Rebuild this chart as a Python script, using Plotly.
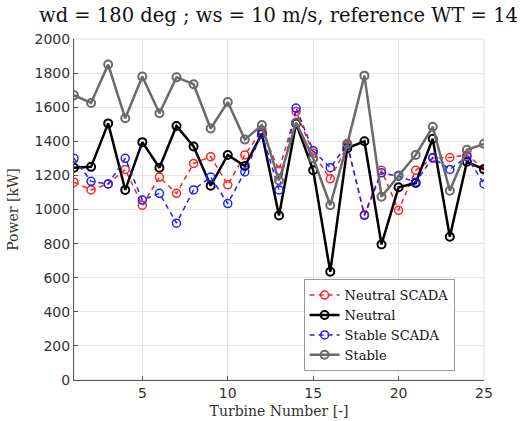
import plotly.graph_objects as go

turbines = list(range(1, 26))
neutral_scada = [1160, 1115, 1150, 1235, 1025, 1190, 1095, 1270, 1310, 1145, 1320, 1465, 1230, 1575, 1330, 1180, 1375, 970, 1230, 995, 1230, 1300, 1305, 1320, 1240]
neutral = [1245, 1250, 1505, 1115, 1395, 1245, 1490, 1370, 1140, 1320, 1255, 1445, 965, 1505, 1230, 635, 1360, 1400, 795, 1130, 1155, 1415, 840, 1280, 1235]
stable_scada = [1300, 1165, 1150, 1300, 1055, 1095, 920, 1115, 1190, 1035, 1220, 1445, 1115, 1595, 1345, 1245, 1385, 965, 1215, 1195, 1160, 1305, 1235, 1310, 1150]
stable = [1670, 1625, 1850, 1535, 1780, 1565, 1775, 1735, 1475, 1630, 1410, 1495, 1170, 1510, 1300, 1025, 1385, 1785, 1075, 1200, 1320, 1485, 1110, 1350, 1385]

title_text = "wd = 180 deg ; ws = 10 m/s, reference WT = 14"
x_title = "Turbine Number [-]"
y_title = "Power [kW]"

serif = "DejaVu Serif"
sans = "DejaVu Sans"

fig = go.Figure()
fig.add_trace(go.Scatter(
    x=turbines, y=neutral_scada, name="Neutral SCADA", mode="lines+markers",
    line=dict(color="#ff2020", width=1.5, dash="5px,4px"),
    marker=dict(symbol="circle-open", size=8, color="#ff2020", line=dict(width=1.5))))
fig.add_trace(go.Scatter(
    x=turbines, y=neutral, name="Neutral", mode="lines+markers",
    line=dict(color="#000000", width=2.5),
    marker=dict(symbol="circle-open", size=8, color="#000000", line=dict(width=2))))
fig.add_trace(go.Scatter(
    x=turbines, y=stable_scada, name="Stable SCADA", mode="lines+markers",
    line=dict(color="#2020ff", width=1.5, dash="5px,4px"),
    marker=dict(symbol="circle-open", size=8, color="#2020ff", line=dict(width=1.5))))
fig.add_trace(go.Scatter(
    x=turbines, y=stable, name="Stable", mode="lines+markers",
    line=dict(color="#6a6a6a", width=2.5),
    marker=dict(symbol="circle-open", size=8, color="#6a6a6a", line=dict(width=2))))

fig.update_layout(
    template="none",
    font=dict(family=serif, size=14, color="#111111"),
    width=521, height=421,
    margin=dict(l=74, r=37, t=39, b=41),
    paper_bgcolor="white", plot_bgcolor="white",
    title=dict(text=title_text, x=0.5345, xanchor="center", y=0.965, yanchor="middle",
               font=dict(family=serif, size=19.5, color="#111111")),
    showlegend=True,
    legend=dict(x=0.56, y=0.026, xanchor="left", yanchor="bottom",
                bgcolor="white", bordercolor="#9a9a9a", borderwidth=1,
                font=dict(family=serif, size=13, color="#111111"),
                tracegroupgap=0, itemwidth=30),
)
fig.update_xaxes(
    range=[1, 25], tickvals=[5, 10, 15, 20, 25],
    showgrid=True, gridcolor="#e6e6e6", gridwidth=1,
    showline=True, linecolor="#555555", linewidth=1, mirror=False,
    ticks="inside", ticklen=4, tickcolor="#555555",
    tickfont=dict(family=sans, size=14, color="#333333"),
    title=dict(text=x_title, font=dict(family=serif, size=14, color="#333333"), standoff=6),
    zeroline=False,
)
fig.update_yaxes(
    range=[0, 2000], dtick=200,
    showgrid=True, gridcolor="#e6e6e6", gridwidth=1,
    showline=True, linecolor="#555555", linewidth=1,
    ticks="inside", ticklen=4, tickcolor="#555555",
    tickfont=dict(family=sans, size=14, color="#333333"),
    title=dict(text=y_title, font=dict(family=serif, size=14, color="#333333"), standoff=12),
    zeroline=False,
)
fig.add_shape(type="rect", xref="paper", yref="paper", x0=0, y0=0, x1=1, y1=1,
              line=dict(color="#e0e0e0", width=1), layer="below")

fig.write_html("out.html")
